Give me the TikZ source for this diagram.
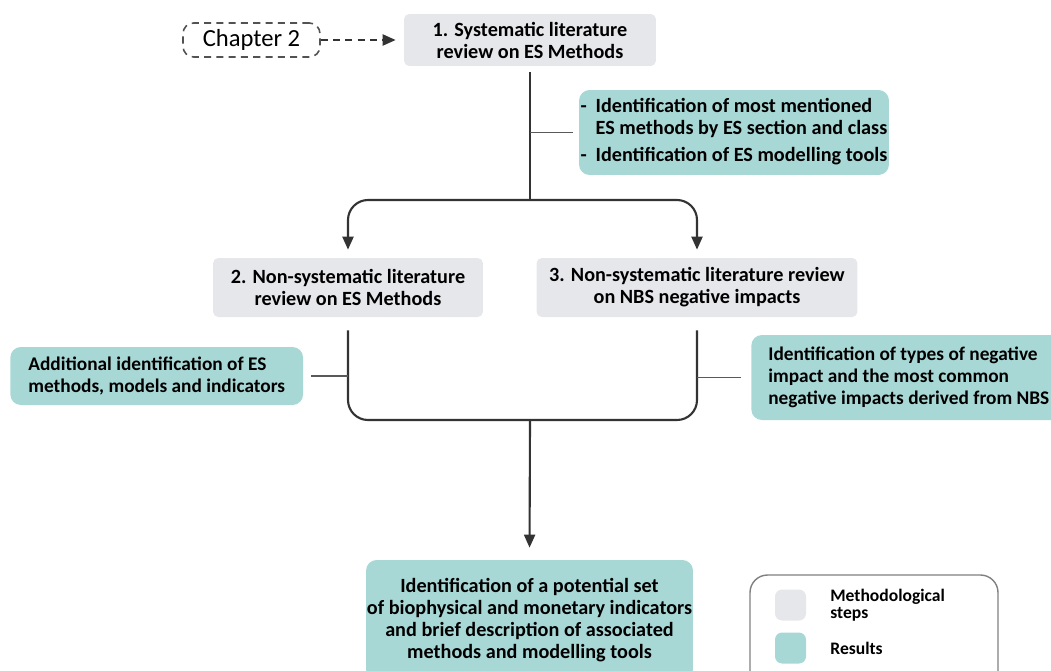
\documentclass[tikz,border=0pt]{standalone}
\usepackage{fontspec}
\setmainfont{Carlito}
\usetikzlibrary{arrows.meta}

\definecolor{stepgray}{RGB}{230,231,235}
\definecolor{resteal}{RGB}{168,216,214}
\definecolor{flowgray}{RGB}{51,51,51}

\newcommand*{\boxfont}{\bfseries\fontsize{11.5}{12.5}\selectfont}
\newcommand*{\sidefont}{\bfseries\fontsize{11}{12.5}\selectfont}
\newcommand*{\keyfont}{\bfseries\fontsize{10}{9.5}\selectfont}

\tikzset{
  stepbox/.style={fill=stepgray, rounded corners=3pt, font=\boxfont, align=center, inner sep=0pt},
  resbox/.style={fill=resteal, rounded corners=6pt, font=\boxfont, inner sep=0pt},
  flow/.style={draw=flowgray, line width=1.2pt},
  side/.style={draw=gray!70!black, line width=0.7pt},
  tip/.style={-{Triangle[length=2.6mm,width=2.2mm]}}
}

\begin{document}
\begin{tikzpicture}[x=0.02cm, y=-0.02cm]
    \useasboundingbox (0,0) rectangle (1051,670);

    % methodological steps
    \node[draw=flowgray!85, line width=0.9pt, dash pattern=on 4pt off 3pt, rounded corners=6pt,
          minimum width=2.74cm, minimum height=0.68cm,
          font=\fontsize{14}{16}\selectfont] (ch2) at (251.5,40) {Chapter 2};
    \node[stepbox, minimum width=5.04cm, minimum height=1.04cm] (s1) at (530,40)
        {1. Systematic literature\\ review on ES Methods};
    \node[stepbox, minimum width=5.4cm, minimum height=1.18cm] (s2) at (348,287.5)
        {2. Non-systematic literature\\ review on ES Methods};
    \node[stepbox, minimum width=6.42cm, minimum height=1.18cm] (s3) at (697,287.5)
        {3. Non-systematic literature review\\ on NBS negative impacts};

    % results
    \node[resbox, minimum width=6.2cm, minimum height=1.7cm, align=left] (r1) at (734,132.5)
        {\begin{tabular}{@{}l@{\hspace{5pt}}l@{}}
         - & Identification of most mentioned\\
           & ES methods by ES section and class\\[3pt]
         - & Identification of ES modelling tools
         \end{tabular}};
    \node[resbox, font=\sidefont, anchor=west, inner xsep=0.36cm, minimum height=1.16cm, align=left] (r2) at (10,376)
        {Additional identification of ES\\ methods, models and indicators};
    \node[resbox, font=\sidefont, anchor=west, inner xsep=0.34cm, minimum height=1.7cm, align=left] (r3) at (751,377.5)
        {Identification of types of negative\\ impact and the most common\\ negative impacts derived from NBS};
    \node[resbox, minimum width=6.54cm, minimum height=2.4cm, align=center] (res) at (529.5,620)
        {Identification of a potential set\\ of biophysical and monetary indicators\\
         and brief description of associated\\ methods and modelling tools};

    % flow
    \coordinate (split) at (530,200);
    \coordinate (merge) at (530,420);
    \draw[flow, dash pattern=on 4pt off 3pt, tip, shorten >=0.16cm] (ch2.east) -- (s1.west);
    \draw[flow, shorten <=0.12cm] (s1.south) -- (split);
    \draw[flow, tip, rounded corners=0.4cm, shorten >=0.16cm] (split) -| (s2.north);
    \draw[flow, tip, rounded corners=0.4cm, shorten >=0.16cm] (split) -| (s3.north);
    \draw[flow, rounded corners=0.4cm, shorten <=0.26cm, shorten >=0.26cm]
        (s2.south) |- (merge) -| (s3.south);
    \draw[flow, tip, shorten >=0.24cm] (merge) -- (res.north);

    \draw[side, shorten >=0.12cm] (s1.south |- r1.west) -- (r1.west);
    \draw[side, shorten <=0.16cm] (r2.east) -- (r2.east -| s2.south);
    \draw[side, shorten <=0.2cm] (r3.west) -- (r3.west -| s3.south);

    % legend
    \draw[gray, line width=0.8pt, rounded corners=10pt] (750,575) rectangle (998,700);
    \node[fill=stepgray, rounded corners=4pt, minimum size=0.62cm, inner sep=0pt] (kstep) at (790.5,605) {};
    \node[fill=resteal, rounded corners=4pt, minimum size=0.62cm, inner sep=0pt] (kres) at (790.5,648) {};
    \node[anchor=west, font=\keyfont, align=left, inner sep=0pt] (lstep) at (830,605) {Methodological\\ steps};
    \node[anchor=west, font=\keyfont, inner sep=0pt] (lres) at (830,648) {Results};
\end{tikzpicture}
\end{document}
